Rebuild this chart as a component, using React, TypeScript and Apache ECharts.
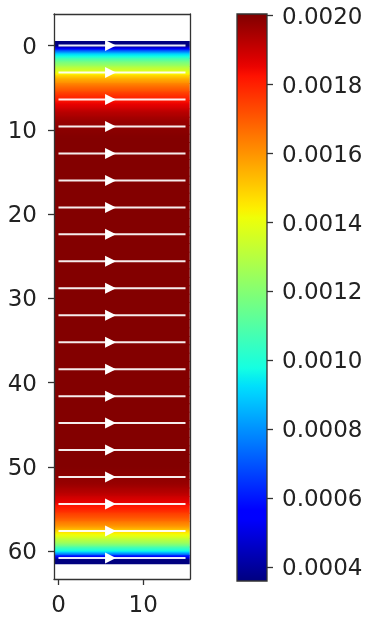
import React, { useEffect, useRef } from "react";
import * as echarts from "echarts";

// ---- data ----
const X_EXTENT = [-0.5, 15.5];
// velocity magnitude per row (constant along x), rows 0..61
const ROW_VALUES = [
  0.00036, 0.00091, 0.00118, 0.00137, 0.00156, 0.00168, 0.00178, 0.00186, 0.00193, 0.00197, 0.00199, 0.002,
  0.002, 0.002, 0.002, 0.002, 0.002, 0.002, 0.002, 0.002, 0.002, 0.002,
  0.002, 0.002, 0.002, 0.002, 0.002, 0.002, 0.002, 0.002, 0.002, 0.002,
  0.002, 0.002, 0.002, 0.002, 0.002, 0.002, 0.002, 0.002, 0.002, 0.002,
  0.002, 0.002, 0.002, 0.002, 0.002, 0.002, 0.002, 0.002,
  0.002, 0.00199, 0.00197, 0.00193, 0.00187, 0.0018, 0.00171, 0.0016, 0.00142, 0.00125, 0.00096, 0.00036,
];
const STREAM_Y = [0, 3.2, 6.4, 9.6, 12.8, 16, 19.2, 22.4, 25.6, 28.8, 32, 35.2, 38.4, 41.6, 44.8, 48, 51.2, 54.4, 57.6, 60.8];
const STREAM_X = [0, 15];
const ARROW_X = 6.8;
const X_TICKS = [0, 10];
const Y_TICKS = [0, 10, 20, 30, 40, 50, 60];
const CB_TICKS = [0.0004, 0.0006, 0.0008, 0.001, 0.0012, 0.0014, 0.0016, 0.0018, 0.002];
const CB_RANGE = [0.00036, 0.002005];

// ---- jet colormap ----
const JET_R = [[0, 0], [0.35, 0], [0.66, 1], [0.89, 1], [1, 0.5]];
const JET_G = [[0, 0], [0.125, 0], [0.375, 1], [0.64, 1], [0.91, 0], [1, 0]];
const JET_B = [[0, 0.5], [0.11, 1], [0.34, 1], [0.65, 0], [1, 0]];
function seg(t: number, pts: number[][]) {
  for (let i = 1; i < pts.length; i++) {
    if (t <= pts[i][0]) {
      const [x0, y0] = pts[i - 1];
      const [x1, y1] = pts[i];
      return y0 + ((y1 - y0) * (t - x0)) / (x1 - x0);
    }
  }
  return pts[pts.length - 1][1];
}
function jet(v: number) {
  let t = (v - CB_RANGE[0]) / (CB_RANGE[1] - CB_RANGE[0]);
  t = Math.max(0, Math.min(1, t));
  const r = Math.round(seg(t, JET_R) * 255);
  const g = Math.round(seg(t, JET_G) * 255);
  const b = Math.round(seg(t, JET_B) * 255);
  return `rgb(${r},${g},${b})`;
}

const FONT = "DejaVu Sans";
const FS = 23;
const TXT = "#222";
const LINE = "#333";

export default function App() {
  const ref = useRef<HTMLDivElement>(null);
  useEffect(() => {
    if (!ref.current) return;
    const chart = echarts.init(ref.current, undefined, { renderer: "svg" });

    const fieldData = ROW_VALUES.map((v, i) => [
      X_EXTENT[0],
      i,
      v,
      ROW_VALUES[Math.max(0, i - 1)],
      ROW_VALUES[Math.min(ROW_VALUES.length - 1, i + 1)],
    ]);
    const streamData = STREAM_Y.map((y) => [STREAM_X[0], y]);

    const lerp = (a: number, b: number, f: number) => a + (b - a) * f;

    const option: any = {
      animation: false,
      textStyle: { fontFamily: FONT },
      grid: [
        { left: 54, top: 14, width: 136, height: 565 },
        { left: 237, top: 14, width: 30, height: 567 },
      ],
      xAxis: [
        {
          type: "value", gridIndex: 0, position: "bottom", min: -0.53, max: 15.53, z: 10,
          axisLine: { show: true, onZero: false, lineStyle: { color: LINE, width: 1.3 } },
          axisTick: { show: true, length: 6, customValues: X_TICKS, lineStyle: { color: LINE, width: 1.3 } },
          axisLabel: { customValues: X_TICKS, margin: 13, fontSize: FS, color: TXT, fontFamily: FONT },
          splitLine: { show: false },
        },
        {
          type: "value", gridIndex: 0, position: "top", min: -0.53, max: 15.53, z: 10,
          axisLine: { show: true, onZero: false, lineStyle: { color: LINE, width: 1.3 } },
          axisTick: { show: false }, axisLabel: { show: false }, splitLine: { show: false },
        },
        { type: "value", gridIndex: 1, min: 0, max: 1, show: false },
      ],
      yAxis: [
        {
          type: "value", gridIndex: 0, position: "left", inverse: true, min: -3.75, max: 63.3, z: 10,
          axisLine: { show: true, onZero: false, lineStyle: { color: LINE, width: 1.3 } },
          axisTick: { show: true, length: 6, customValues: Y_TICKS, lineStyle: { color: LINE, width: 1.3 } },
          axisLabel: { customValues: Y_TICKS, margin: 17, fontSize: FS, color: TXT, fontFamily: FONT },
          splitLine: { show: false },
        },
        {
          type: "value", gridIndex: 0, position: "right", inverse: true, min: -3.75, max: 63.3, z: 10,
          axisLine: { show: true, onZero: false, lineStyle: { color: LINE, width: 1.3 } },
          axisTick: { show: false }, axisLabel: { show: false }, splitLine: { show: false },
        },
        {
          type: "value", gridIndex: 1, position: "right", min: CB_RANGE[0], max: CB_RANGE[1], z: 10,
          axisLine: { show: false, onZero: false },
          axisTick: { show: true, length: 6, customValues: CB_TICKS, lineStyle: { color: LINE, width: 1.3 } },
          axisLabel: {
            customValues: CB_TICKS, margin: 15, fontSize: FS, color: TXT, fontFamily: FONT,
            formatter: (v: number) => v.toFixed(4),
          },
          splitLine: { show: false },
        },
      ],
      series: [
        {
          type: "custom",
          xAxisIndex: 0,
          yAxisIndex: 0,
          clip: true,
          encode: { x: 0, y: 1 },
          data: fieldData,
          renderItem: (params: any, api: any) => {
            const row = api.value(1) as number;
            const v = api.value(2) as number;
            const vp = api.value(3) as number;
            const vn = api.value(4) as number;
            const p0 = api.coord([X_EXTENT[0], row - 0.5]);
            const p1 = api.coord([X_EXTENT[1], row + 0.5]);
            const top = Math.min(p0[1], p1[1]);
            const h = Math.abs(p1[1] - p0[1]);
            const stops: any[] = [];
            const n = 10;
            for (let k = 0; k <= n; k++) {
              const f = k / n;
              const val = f < 0.5 ? lerp((vp + v) / 2, v, f * 2) : lerp(v, (v + vn) / 2, (f - 0.5) * 2);
              stops.push({ offset: f, color: jet(val) });
            }
            return {
              type: "rect",
              shape: { x: p0[0], y: top - 0.4, width: p1[0] - p0[0], height: h + 0.8 },
              style: { fill: new echarts.graphic.LinearGradient(0, 0, 0, 1, stops) },
            };
          },
        },
        {
          type: "custom",
          xAxisIndex: 0,
          yAxisIndex: 0,
          clip: true,
          z: 3,
          encode: { x: 0, y: 1 },
          data: streamData,
          renderItem: (params: any, api: any) => {
            const y = api.value(1) as number;
            const a = api.coord([STREAM_X[0], y]);
            const b = api.coord([STREAM_X[1], y]);
            const tip = api.coord([ARROW_X, y]);
            return {
              type: "group",
              children: [
                {
                  type: "line",
                  shape: { x1: a[0], y1: a[1], x2: b[0], y2: b[1] },
                  style: { stroke: "#ffffff", lineWidth: 2, opacity: 0.92 },
                },
                {
                  type: "polygon",
                  shape: { points: [[tip[0], tip[1]], [tip[0] - 11, tip[1] - 5.5], [tip[0] - 11, tip[1] + 5.5]] },
                  style: { fill: "#ffffff" },
                },
              ],
            };
          },
        },
        {
          type: "custom",
          xAxisIndex: 2,
          yAxisIndex: 2,
          encode: { x: 0, y: 1 },
          data: [[0, CB_RANGE[0], CB_RANGE[1]]],
          renderItem: (params: any, api: any) => {
            const lo = api.value(1) as number;
            const hi = api.value(2) as number;
            const p0 = api.coord([0, hi]);
            const p1 = api.coord([1, lo]);
            const stops: any[] = [];
            const n = 64;
            for (let k = 0; k <= n; k++) {
              const f = k / n;
              stops.push({ offset: f, color: jet(hi - (hi - lo) * f) });
            }
            return {
              type: "rect",
              shape: { x: p0[0], y: p0[1], width: p1[0] - p0[0], height: p1[1] - p0[1] },
              style: { fill: new echarts.graphic.LinearGradient(0, 0, 0, 1, stops), stroke: LINE, lineWidth: 1.3 },
            };
          },
        },
      ],
    };
    chart.setOption(option);
    return () => chart.dispose();
  }, []);
  return <div ref={ref} style={{ position: "fixed", left: 0, top: 0, width: 369, height: 619 }} />;
}
